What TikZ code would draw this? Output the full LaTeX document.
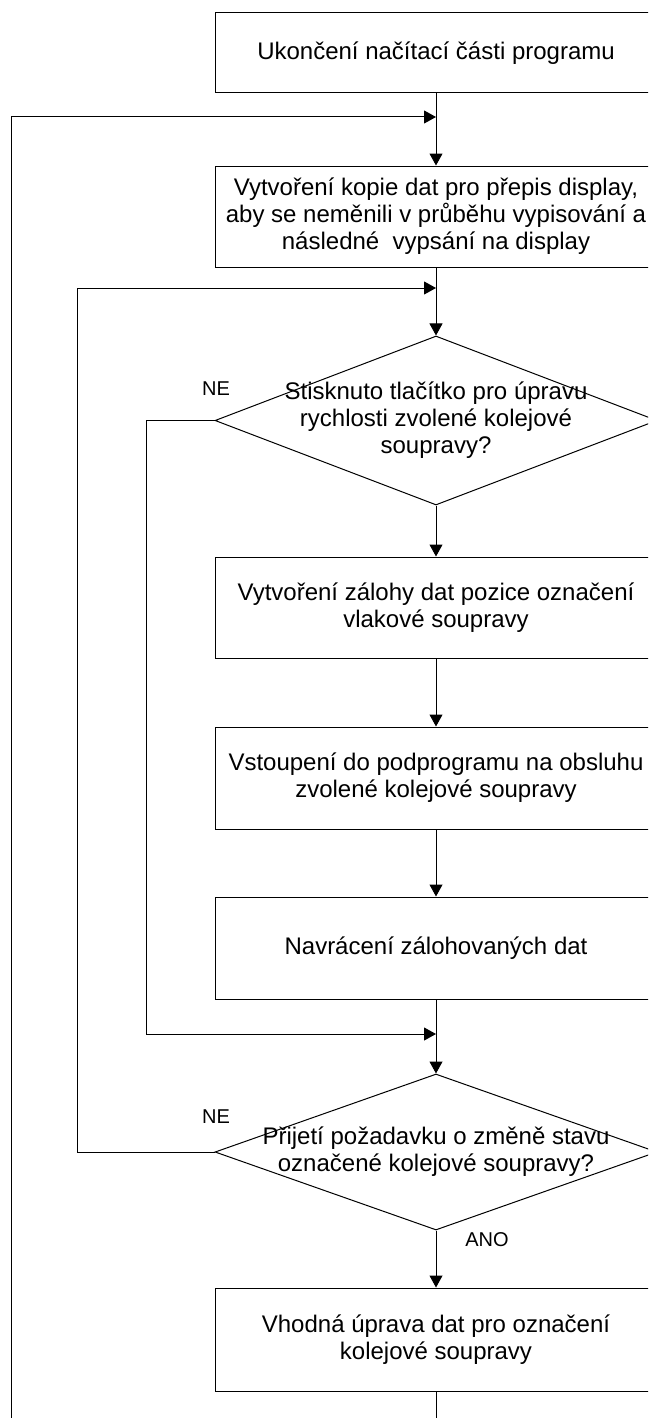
\documentclass[tikz,border=0pt]{standalone}
\usepackage{fontspec}
\setmainfont{Liberation Sans}
\usepackage{tikz}
\usetikzlibrary{positioning,arrows.meta,calc,shapes.geometric}

\begin{document}
\begin{tikzpicture}[x=0.5pt,y=-0.5pt,line width=0.5pt,
    box/.style={draw,rectangle,minimum width=221pt,inner sep=0pt,align=center,
      font=\fontsize{12}{13.5}\selectfont},
    decision/.style={draw,diamond,minimum width=221pt,inner sep=0pt},
    dtext/.style={align=center,inner sep=0pt,font=\fontsize{12}{13.5}\selectfont},
    lbl/.style={font=\fontsize{10}{12}\selectfont},
    flow/.style={-{Triangle[length=6pt,width=6.5pt]}}]
        \useasboundingbox (0,0) rectangle (648,1418);
        \clip (0,0) rectangle (648,1418);
        % main column
        \node[box,minimum height=40pt] (start) at (436,53) {Ukončení načítací části programu};
        \node[box,minimum height=50.5pt] (copy) at (436,216.5)
            {Vytvoření kopie dat pro přepis display,\\aby se neměnili v průběhu vypisování a\\následné\ \ vypsání na display};
        \node[decision,minimum height=84.5pt] (speed) at (436,420.5) {};
        \node[dtext] (speedtxt) at (speed) {Stisknuto tlačítko pro úpravu\\rychlosti zvolené kolejové\\soupravy?};
        \node[box,minimum height=50.5pt] (backup) at (436,607.5)
            {Vytvoření zálohy dat pozice označení\\vlakové soupravy};
        \node[box,minimum height=51pt] (sub) at (436,778)
            {Vstoupení do podprogramu na obsluhu\\zvolené kolejové soupravy};
        \node[box,minimum height=51pt] (restore) at (436,948) {Navrácení zálohovaných dat};
        \node[decision,minimum height=78pt] (change) at (436,1152) {};
        \node[dtext] (changetxt) at (change) {Přijetí požadavku o změně stavu\\označené kolejové soupravy?};
        \node[box,minimum height=51.5pt] (edit) at (436,1339.5)
            {Vhodná úprava dat pro označení\\kolejové soupravy};
        % joins of the loops
        \coordinate (j1) at (436,117);
        \coordinate (j2) at (436,288);
        \coordinate (j3) at (436,1034);
        \draw[flow] (start) -- (copy);
        \draw[flow] (copy) -- (speed);
        \draw[flow] (speed) -- (backup);
        \draw[flow] (backup) -- (sub);
        \draw[flow] (sub) -- (restore);
        \draw[flow] (restore) -- (change);
        \draw[flow] (change) -- (edit);
        % loops back
        \draw[flow] (speed.west) -- ++(-68,0) |- (j3);
        \draw[flow] (change.west) -- ++(-137,0) |- (j2);
        \draw[flow] (edit.south) -- ++(0,60) -| (11,117) -- (j1);
        \node[lbl] (ne1) at (216,389) {NE};
        \node[lbl] (ne2) at (216,1117) {NE};
        \node[lbl] (ano) at (487,1240) {ANO};
      \end{tikzpicture}
\end{document}
